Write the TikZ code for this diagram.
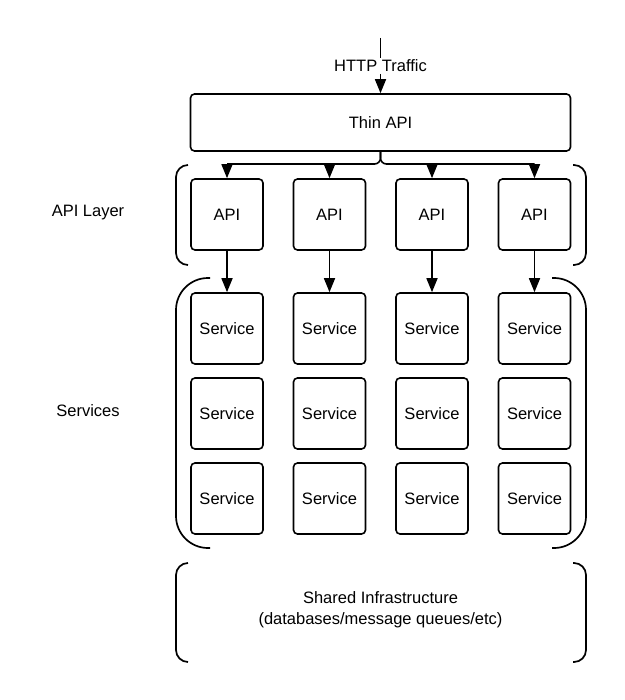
\documentclass[tikz,border=0pt]{standalone}
\usepackage{fontspec}
\setmainfont{Liberation Sans}
\usepackage{tikz}
\usetikzlibrary{arrows.meta,positioning}
\newcommand{\colsep}{102.5}
\newcommand{\rowsep}{85}

\begin{document}
\begin{tikzpicture}[x=1pt,y=-1pt,
	font=\fontsize{16.5}{21}\selectfont,
	line width=1.6pt,
	box/.style={draw,rounded corners=4pt,minimum width=72pt,minimum height=71pt,inner sep=0},
	arr/.style={-{Triangle[length=14pt,width=11pt]}},
	brak/.style={line width=1.7pt,rounded corners=#1},
	brak/.default=12pt]
	
	\useasboundingbox (0,0) rectangle (624,700);
	
	\coordinate (in) at (380.5,38);
	\node[inner sep=1pt] (http) at (380.5,66) {HTTP Traffic};
	\node[draw,rounded corners=4pt,minimum width=380pt,minimum height=57pt] (thin) at (380.5,122.5) {Thin API};
	\draw (in) -- (http.north);
	\draw[arr] (http.south) -- (thin.north);
	
	\foreach \i in {1,...,4}{%
		\node[box] (api\i) at ({227+(\i-1)*\colsep},214.5) {API};
		\foreach \j in {1,2,3}{\node[box] (s\i;\j) at ({227+(\i-1)*\colsep},{328.5+(\j-1)*\rowsep})
			{Service}
			%{\i;\j}
			;}
		\draw[arr] (api\i.south) -- (s\i;1.north);
	}
	
	\coordinate (bus) at (380.5,164);
	\draw[rounded corners=6pt] (thin.south) -- (bus) -- (api1 |- bus);
	\draw[rounded corners=6pt] (thin.south) -- (bus) -- (api4 |- bus);
	\foreach \i in {1,...,4}
		\draw[arr] (api\i |- bus) -- (api\i.north);
	
	\node (lapi) at (88,213) {API Layer};
	\node (lsrv) at (88,411) {Services};
	\node[align=center] (shared) at (380.5,610) {Shared Infrastructure\\(databases/message queues/etc)};
	
	% brackets
	\draw[brak] (188,165) -- (176,165) -- (176,265) -- (188,265);
	\draw[brak] (573,165) -- (586,165) -- (586,265) -- (573,265);
	\draw[brak=32pt] (210,278) -- (176,278) -- (176,548) -- (210,548);
	\draw[brak=32pt] (552,278) -- (586,278) -- (586,548) -- (552,548);
	\draw[brak] (188,563) -- (176,563) -- (176,662) -- (188,662);
	\draw[brak] (573,563) -- (586,563) -- (586,662) -- (573,662);
\end{tikzpicture}
\end{document}
